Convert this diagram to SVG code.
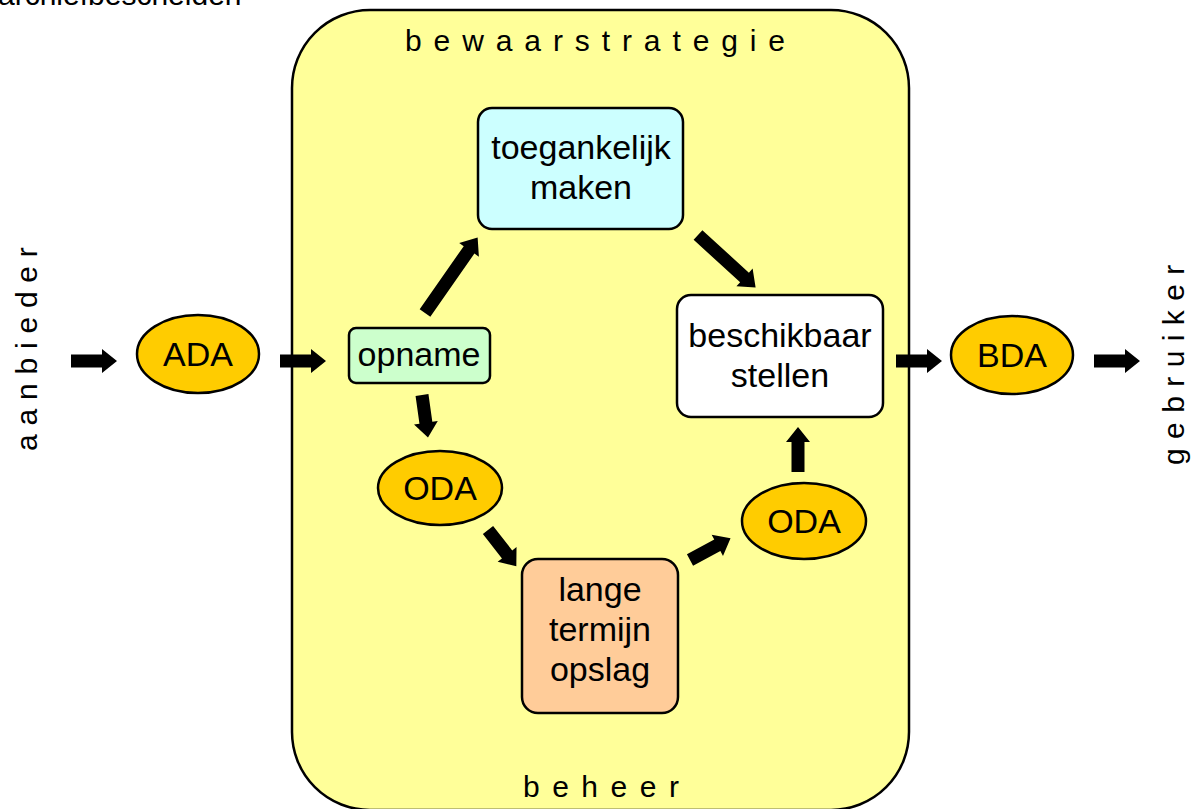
<svg xmlns="http://www.w3.org/2000/svg" width="1200" height="809" viewBox="0 0 1200 809">
<style>
text{font-family:"Liberation Sans",Arial,sans-serif;fill:#000}
.lbl{font-size:34px;text-anchor:middle}
.sp{font-size:30px}
.box{stroke:#000;stroke-width:2.5}
.ell{fill:#FFCC00;stroke:#000;stroke-width:2.5}
.arr{fill:#000}
</style>
<defs>
<path id="a46" d="M0,-6.5 L31,-6.5 L31,-12 L46,0 L31,12 L31,6.5 L0,6.5Z"/>
</defs>
<rect width="1200" height="809" fill="#fff"/>
<text class="sp" x="-2" y="5">archiefbescheiden</text>
<g id="container">
<rect x="292" y="10" width="617" height="800" rx="78" ry="78" fill="#FFFF99" stroke="#000" stroke-width="2.5"/>
<text class="sp" x="405" y="51" letter-spacing="11.9">bewaarstrategie</text>
<text class="sp" x="523" y="797" letter-spacing="12.5">beheer</text>
</g>
<g id="aanbieder"><text class="sp" transform="translate(37,451) rotate(-90)" letter-spacing="8.8">aanbieder</text></g>
<g id="gebruiker"><text class="sp" transform="translate(1184,465) rotate(-90)" letter-spacing="9.4">gebruiker</text></g>
<g id="ADA"><ellipse class="ell" cx="198" cy="354" rx="61" ry="39"/><text class="lbl" x="198" y="366">ADA</text></g>
<g id="BDA"><ellipse class="ell" cx="1012" cy="355" rx="61" ry="39"/><text class="lbl" x="1012" y="367">BDA</text></g>
<g id="opname"><rect class="box" x="349" y="328" width="141" height="55" rx="7" fill="#CCFFCC"/><text class="lbl" x="419" y="366">opname</text></g>
<g id="toegankelijk"><rect class="box" x="478" y="108" width="205" height="121" rx="14" fill="#CCFFFF"/><text class="lbl" x="581" y="159">toegankelijk</text><text class="lbl" x="581" y="199">maken</text></g>
<g id="beschikbaar"><rect class="box" x="677" y="295" width="206" height="122" rx="14" fill="#FFFFFF"/><text class="lbl" x="780" y="347">beschikbaar</text><text class="lbl" x="780" y="387">stellen</text></g>
<g id="ODA1"><ellipse class="ell" cx="440" cy="488" rx="62" ry="37"/><text class="lbl" x="440" y="500">ODA</text></g>
<g id="ODA2"><ellipse class="ell" cx="804" cy="521" rx="62" ry="38"/><text class="lbl" x="804" y="533">ODA</text></g>
<g id="opslag"><rect class="box" x="522" y="559" width="156" height="154" rx="16" fill="#FFCC99"/><text class="lbl" x="600" y="601">lange</text><text class="lbl" x="600" y="641">termijn</text><text class="lbl" x="600" y="681">opslag</text></g>
<g id="connectors" class="arr">
<use href="#a46" transform="translate(71,361)"/>
<use href="#a46" transform="translate(280,361)"/>
<use href="#a46" transform="translate(896,361)"/>
<use href="#a46" transform="translate(1094,361)"/>
<path transform="translate(798,472) rotate(-90)" d="M0,-6.5 L30,-6.5 L30,-12 L45,0 L30,12 L30,6.5 L0,6.5Z"/>
<path transform="translate(425,313) rotate(-55.1)" d="M0,-6.5 L77,-6.5 L77,-12 L92,0 L77,12 L77,6.5 L0,6.5Z"/>
<path transform="translate(698,235) rotate(42.4)" d="M0,-6.5 L63,-6.5 L63,-12 L78,0 L63,12 L63,6.5 L0,6.5Z"/>
<path transform="translate(422,395) rotate(82)" d="M0,-6.5 L28,-6.5 L28,-12 L43,0 L28,12 L28,6.5 L0,6.5Z"/>
<path transform="translate(488,530) rotate(52)" d="M0,-6.5 L31,-6.5 L31,-12 L46,0 L31,12 L31,6.5 L0,6.5Z"/>
<path transform="translate(690,560) rotate(-28.2)" d="M0,-6.5 L31,-6.5 L31,-12 L46,0 L31,12 L31,6.5 L0,6.5Z"/>
</g>
</svg>
